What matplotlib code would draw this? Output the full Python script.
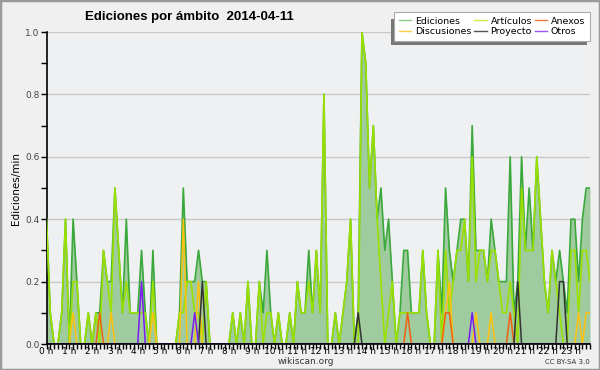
import numpy as np
import matplotlib
matplotlib.use("Agg")
import matplotlib.pyplot as plt
from matplotlib.patches import Rectangle

# ediciones por minuto, cada 10 minutos (144 puntos)
ediciones = [0.4, 0.1, 0, 0, 0.1, 0.4,   0, 0.4, 0.2, 0, 0, 0.1,
             0, 0.1, 0.1, 0.3, 0.2, 0.2,   0.5, 0.3, 0.1, 0.4, 0.1, 0.1,
             0.1, 0.3, 0.1, 0, 0.3, 0,   0, 0, 0, 0, 0, 0.1,
             0.5, 0.2, 0.2, 0.2, 0.3, 0.2,   0.2, 0, 0, 0, 0, 0,
             0, 0.1, 0, 0.1, 0, 0.2,   0, 0, 0.2, 0.1, 0.3, 0.1,
             0, 0.1, 0, 0, 0.1, 0,   0.2, 0.1, 0.1, 0.3, 0.1, 0.3,
             0.1, 0.8, 0, 0, 0.1, 0,   0.1, 0.2, 0.4, 0, 0.1, 1.0,
             0.9, 0.5, 0.7, 0.4, 0.5, 0.3,   0.4, 0.2, 0, 0.1, 0.3, 0.3,
             0.1, 0.1, 0.1, 0.3, 0.1, 0,   0, 0.3, 0.1, 0.5, 0.3, 0.2,
             0.3, 0.4, 0.4, 0.2, 0.7, 0.3,   0.3, 0.3, 0.2, 0.4, 0.3, 0.2,
             0.2, 0.2, 0.6, 0.1, 0.2, 0.6,   0.3, 0.5, 0.3, 0.6, 0.4, 0.2,
             0.1, 0.3, 0.2, 0.3, 0.2, 0.1,   0.4, 0.4, 0.2, 0.4, 0.5, 0.5]
articulos = [0.4, 0.1, 0, 0, 0.1, 0.4,   0, 0.2, 0.2, 0, 0, 0.1,
             0, 0.1, 0, 0.3, 0.2, 0.1,   0.5, 0.3, 0.1, 0.2, 0.1, 0.1,
             0.1, 0.1, 0.1, 0, 0.2, 0,   0, 0, 0, 0, 0, 0.1,
             0.1, 0.2, 0.2, 0.1, 0.1, 0,   0.2, 0, 0, 0, 0, 0,
             0, 0.1, 0, 0.1, 0, 0.2,   0, 0, 0.2, 0, 0.1, 0.1,
             0, 0.1, 0, 0, 0.1, 0,   0.2, 0.1, 0.1, 0.2, 0.1, 0.3,
             0.1, 0.8, 0, 0, 0.1, 0,   0.1, 0.2, 0.4, 0, 0, 1.0,
             0.9, 0.5, 0.7, 0.4, 0.2, 0,   0.1, 0.2, 0, 0.1, 0.1, 0.1,
             0.1, 0.1, 0.1, 0.3, 0.1, 0,   0, 0.3, 0, 0.3, 0.1, 0.2,
             0.3, 0.3, 0.4, 0.2, 0.6, 0.2,   0.3, 0.3, 0.2, 0.3, 0.3, 0.2,
             0.1, 0.1, 0.2, 0.1, 0, 0.5,   0.3, 0.3, 0.3, 0.6, 0.4, 0.2,
             0.1, 0.3, 0.2, 0.1, 0, 0,   0.3, 0.3, 0.1, 0.3, 0.3, 0.2]
# series escasas: {indice de 10 min: valor}
discusiones_pts = {7: 0.1, 17: 0.1, 28: 0.1, 36: 0.4, 40: 0.2, 105: 0.1, 106: 0.2,
                   113: 0.1, 117: 0.1, 140: 0.1, 142: 0.1, 143: 0.1}
anexos_pts = {14: 0.1, 95: 0.1, 105: 0.1, 106: 0.1, 122: 0.1}
otros_pts = {25: 0.2, 39: 0.1, 112: 0.1}
proyecto_pts = {41: 0.2, 82: 0.1, 124: 0.2, 135: 0.2, 136: 0.2}

horas = ["%d h" % h for h in range(24)]

def expand(pts):
    s = np.zeros(len(ediciones))
    for k, v in pts.items():
        s[k] = v
    return s

x = np.arange(len(ediciones))

fig = plt.figure(figsize=(6, 3.7), dpi=100, facecolor="#f0f0f0")
fig.patches.append(Rectangle((0, 0), 1, 1, transform=fig.transFigure, fill=False,
                             edgecolor="#9a9a9a", linewidth=2.5))
ax = fig.add_axes([46.5 / 600, 1 - 344 / 370, (590 - 46.5) / 600, (344 - 32) / 370])
ax.set_facecolor("#eef0f2")

ax.fill_between(x, ediciones, 0, color="#9fcb9f", linewidth=0, zorder=2)
ax.plot(x, ediciones, color="#3aa83a", lw=1.2, zorder=3)
ax.plot(x, articulos, color="#9be000", lw=1.2, zorder=4)
ax.plot(x, expand(discusiones_pts), color="#ffc20e", lw=1.1, zorder=5)
ax.plot(x, expand(anexos_pts), color="#f06010", lw=1.1, zorder=5)
ax.plot(x, expand(proyecto_pts), color="#333333", lw=1.1, zorder=6)
ax.plot(x, expand(otros_pts), color="#7a1cf0", lw=1.1, zorder=6)

ax.set_xlim(0, len(ediciones) - 1)
ax.set_ylim(0, 1.0)
ax.set_xticks(np.arange(0, 144, 6))
ax.set_xticklabels(horas, fontsize=6.5)
ax.set_xticks(x, minor=True)
ax.set_yticks(np.arange(0, 1.01, 0.2))
ax.set_yticklabels(["%.1f" % v for v in np.arange(0, 1.01, 0.2)], fontsize=6.5, color="#444444")
ax.set_yticks(np.arange(0, 1.01, 0.1), minor=True)
ax.tick_params(axis="x", which="both", direction="out", length=3.5, width=1, pad=-1)
ax.tick_params(axis="y", which="both", direction="out", length=4, width=1, pad=1)
ax.grid(axis="y", color="#c8c8c8", lw=1, zorder=1)
for s in ["top", "right"]:
    ax.spines[s].set_visible(False)
ax.spines["left"].set_linewidth(1.2)
ax.spines["bottom"].set_linewidth(1.2)
ax.spines["bottom"].set_zorder(7)
ax.set_ylabel("Ediciones/min", fontsize=7.5, labelpad=3)

fig.text(85 / 600, 1 - 17 / 370, "Ediciones por ámbito  2014-04-11", fontsize=9.5,
         family="Liberation Sans", fontweight="bold", va="center", ha="left")
fig.text(306 / 600, 1 - 362 / 370, "wikiscan.org", fontsize=6.5, ha="center",
         va="center", color="#333333")
fig.text(590 / 600, 1 - 362 / 370, "CC BY-SA 3.0", fontsize=5, ha="right",
         va="center", color="#333333")

# sombra de la leyenda (izquierda y abajo)
fig.patches.append(Rectangle((391 / 600, 1 - 45 / 370), 196 / 600, 26 / 370,
                             transform=fig.transFigure, facecolor="#777777",
                             edgecolor="none", zorder=9))

names = ["Ediciones", "Discusiones", "Artículos", "Proyecto", "Anexos", "Otros"]
cols = ["#88cc88", "#ffd044", "#ccee44", "#555555", "#ee7744", "#9955ee"]
handles = [plt.Line2D([], [], color=c, lw=1) for c in cols]
leg = fig.legend(handles, names, ncol=3, loc="upper right",
                 bbox_to_anchor=(590 / 600, 1 - 12 / 370), fontsize=6.8,
                 frameon=True, fancybox=False,
                 handlelength=1.3, handletextpad=0.4, columnspacing=0.3,
                 labelspacing=0.15, borderpad=0.5, borderaxespad=0)
leg.get_frame().set_edgecolor("#aaaaaa")
leg.get_frame().set_linewidth(0.8)
leg.get_frame().set_alpha(1)
leg.set_zorder(10)

fig.savefig("out.png", dpi=100, facecolor=fig.get_facecolor())
